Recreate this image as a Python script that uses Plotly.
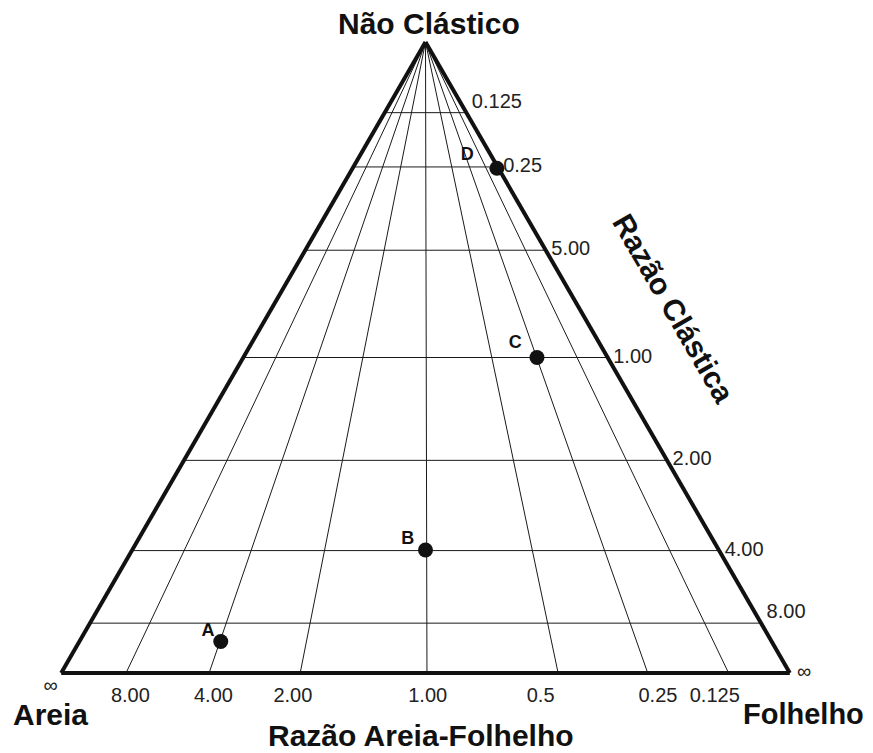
import plotly.graph_objects as go

# ---- data ----
# horizontal lines: clastic ratio labels and their non-clastic fraction (a)
clastic_labels = ["0.125", "0.25", "5.00", "1.00", "2.00", "4.00", "8.00"]
clastic_nonclastic = [0.888, 0.802, 0.670, 0.500, 0.337, 0.194, 0.079]

# radial lines: sand/shale ratio labels and the shale fraction where they meet the base
sandshale_labels = ["8.00", "4.00", "2.00", "1.00", "0.5", "0.25", "0.125"]
sandshale_shale = [0.089, 0.203, 0.328, 0.502, 0.682, 0.805, 0.916]

# samples: non-clastic, sand (Areia), shale (Folhelho)
sample_names = ["A", "B", "C", "D"]
sample_nonclastic = [0.050, 0.195, 0.500, 0.800]
sample_sand = [0.756, 0.4025, 0.097, 0.002]
sample_shale = [0.194, 0.4025, 0.403, 0.198]

FONT = "Arial, Liberation Sans, sans-serif"
W, H, OFF = 865, 745, 8   # page body adds an 8px margin


def px(x):
    return (x - OFF) / W


def py(y):
    return 1 - (y - OFF) / H


fig = go.Figure()
NOLINE = dict(width=0)

# horizontal (constant non-clastic) lines
for a in clastic_nonclastic:
    fig.add_trace(go.Scatterternary(
        a=[a, a], b=[1 - a, 0], c=[0, 1 - a], mode="lines",
        line=dict(color="#1a1a1a", width=1), hoverinfo="skip", showlegend=False))

# radial lines from the top vertex
for f in sandshale_shale:
    fig.add_trace(go.Scatterternary(
        a=[1, 0], b=[0, 1 - f], c=[0, f], mode="lines",
        line=dict(color="#1a1a1a", width=1), hoverinfo="skip", showlegend=False))

# right-side labels (clastic ratio)
fig.add_trace(go.Scatterternary(
    a=clastic_nonclastic, b=[0] * len(clastic_nonclastic),
    c=[1 - a for a in clastic_nonclastic],
    mode="text", text=[" " + t for t in clastic_labels],
    textposition=["top right", "middle right", "middle right", "middle right",
                  "middle right", "middle right", "top right"],
    textfont=dict(family=FONT, size=20, color="#222"),
    cliponaxis=False, hoverinfo="skip", showlegend=False))

# bottom labels (sand/shale ratio)
label_nudge = [0.006, 0.006, -0.010, 0.001, -0.024, 0.014, -0.019]
fig.add_trace(go.Scatterternary(
    a=[0] * len(sandshale_shale),
    b=[1 - (f + d) for f, d in zip(sandshale_shale, label_nudge)],
    c=[f + d for f, d in zip(sandshale_shale, label_nudge)],
    mode="markers+text", text=sandshale_labels, textposition="bottom center",
    marker=dict(size=20, color="rgba(0,0,0,0)", line=NOLINE),
    textfont=dict(family=FONT, size=20, color="#222"),
    cliponaxis=False, hoverinfo="skip", showlegend=False))

# infinity labels at the base vertices
fig.add_trace(go.Scatterternary(
    a=[0, 0], b=[1, 0], c=[0, 1], mode="markers+text", text=["∞", "∞"],
    textposition=["bottom left", "middle right"],
    marker=dict(size=[4, 10], color="rgba(0,0,0,0)", line=NOLINE),
    textfont=dict(family=FONT, size=20, color="#222"),
    cliponaxis=False, hoverinfo="skip", showlegend=False))

# sample points
fig.add_trace(go.Scatterternary(
    a=sample_nonclastic, b=sample_sand, c=sample_shale,
    mode="markers", marker=dict(size=15, color="#111", line=NOLINE),
    cliponaxis=False, showlegend=False))

# sample letters, set up and to the left of each point
NB = "\u00a0"
label_pad = [1, 2, 2, 4]          # trailing gap (in spaces) after each letter
label_gap = [0.4, 0.2, 6.8, 3.6]  # offset size from the point
fig.add_trace(go.Scatterternary(
    a=sample_nonclastic, b=sample_sand, c=sample_shale,
    mode="markers+text", text=[n + NB * p for n, p in zip(sample_names, label_pad)],
    textposition="top left",
    marker=dict(size=label_gap, color="rgba(0,0,0,0)", line=NOLINE),
    textfont=dict(family=FONT, size=18, color="#111", weight="bold"),
    cliponaxis=False, hoverinfo="skip", showlegend=False))

axis_style = dict(showline=True, linewidth=4, linecolor="#111", showgrid=False,
                  showticklabels=False, ticks="", title=dict(text=""))


def title(text, x, y, angle=0, size=30):
    return dict(text="<b>" + text + "</b>", x=px(x), y=py(y), xref="paper", yref="paper",
                xanchor="center", yanchor="middle", showarrow=False, textangle=angle,
                font=dict(family=FONT, size=size, color="#111"))


fig.update_layout(
    width=W, height=H, margin=dict(l=0, r=0, t=0, b=0),
    paper_bgcolor="white", showlegend=False,
    ternary=dict(
        domain=dict(x=[px(61), px(790)], y=[py(673), py(42)]),
        bgcolor="white", sum=1,
        aaxis=axis_style, baxis=axis_style, caxis=axis_style),
    annotations=[
        title("Não Clástico", 429, 24),
        title("Areia", 50, 714),
        title("Folhelho", 803, 714, size=29),
        title("Razão Areia-Folhelho", 421, 735),
        title("Razão Clástica", 674, 308, 60),
    ],
)

fig.write_html("out.html")
